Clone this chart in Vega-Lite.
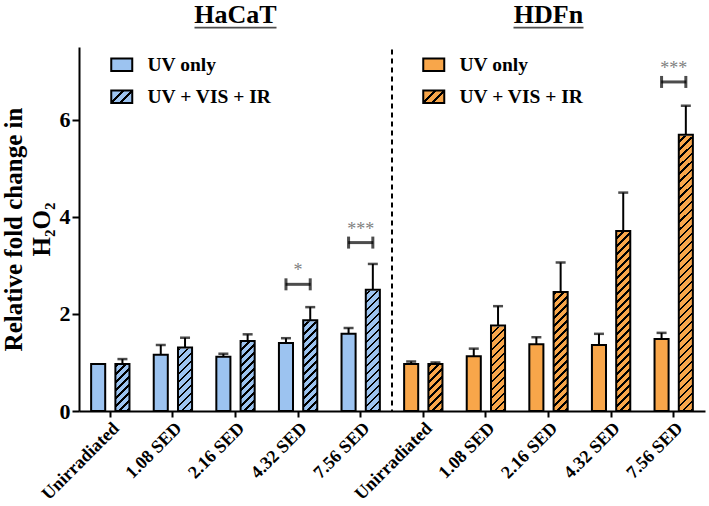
{
  "$schema": "https://vega.github.io/schema/vega-lite/v6.json",
  "width": 626,
  "height": 364,
  "autosize": "none",
  "padding": {"left": 79, "top": 47, "right": 4, "bottom": 95},
  "config": {
    "view": {"stroke": null},
    "font": "Liberation Serif",
    "axis": {"domainColor": "black", "tickColor": "black", "labelColor": "black", "titleColor": "black", "grid": false, "labelFont": "Liberation Serif", "titleFont": "Liberation Serif"}
  },
  "datasets": {
    "main": [
      {"cell": "HaCaT", "dose": "Unirradiated", "treat": "UV only", "mean": 0.97, "hi": null},
      {"cell": "HaCaT", "dose": "Unirradiated", "treat": "UV + VIS + IR", "mean": 0.97, "hi": 1.07},
      {"cell": "HaCaT", "dose": "1.08 SED", "treat": "UV only", "mean": 1.16, "hi": 1.36},
      {"cell": "HaCaT", "dose": "1.08 SED", "treat": "UV + VIS + IR", "mean": 1.31, "hi": 1.51},
      {"cell": "HaCaT", "dose": "2.16 SED", "treat": "UV only", "mean": 1.12, "hi": 1.18},
      {"cell": "HaCaT", "dose": "2.16 SED", "treat": "UV + VIS + IR", "mean": 1.44, "hi": 1.58},
      {"cell": "HaCaT", "dose": "4.32 SED", "treat": "UV only", "mean": 1.40, "hi": 1.50},
      {"cell": "HaCaT", "dose": "4.32 SED", "treat": "UV + VIS + IR", "mean": 1.87, "hi": 2.14},
      {"cell": "HaCaT", "dose": "7.56 SED", "treat": "UV only", "mean": 1.59, "hi": 1.71},
      {"cell": "HaCaT", "dose": "7.56 SED", "treat": "UV + VIS + IR", "mean": 2.50, "hi": 3.03},
      {"cell": "HDFn", "dose": "Unirradiated", "treat": "UV only", "mean": 0.97, "hi": 1.02},
      {"cell": "HDFn", "dose": "Unirradiated", "treat": "UV + VIS + IR", "mean": 0.97, "hi": 1.00},
      {"cell": "HDFn", "dose": "1.08 SED", "treat": "UV only", "mean": 1.13, "hi": 1.285},
      {"cell": "HDFn", "dose": "1.08 SED", "treat": "UV + VIS + IR", "mean": 1.76, "hi": 2.16},
      {"cell": "HDFn", "dose": "2.16 SED", "treat": "UV only", "mean": 1.375, "hi": 1.52},
      {"cell": "HDFn", "dose": "2.16 SED", "treat": "UV + VIS + IR", "mean": 2.45, "hi": 3.06},
      {"cell": "HDFn", "dose": "4.32 SED", "treat": "UV only", "mean": 1.36, "hi": 1.59},
      {"cell": "HDFn", "dose": "4.32 SED", "treat": "UV + VIS + IR", "mean": 3.71, "hi": 4.50},
      {"cell": "HDFn", "dose": "7.56 SED", "treat": "UV only", "mean": 1.485, "hi": 1.61},
      {"cell": "HDFn", "dose": "7.56 SED", "treat": "UV + VIS + IR", "mean": 5.69, "hi": 6.29}
    ],
    "sig": [
      {"cell": "HaCaT", "dose": "4.32 SED", "level": 2.61, "stars": "*"},
      {"cell": "HaCaT", "dose": "7.56 SED", "level": 3.47, "stars": "***"},
      {"cell": "HDFn", "dose": "7.56 SED", "level": 6.78, "stars": "***"}
    ],
    "titles": [
      {"cell": "HaCaT", "dose": "2.16 SED", "name": "HaCaT"},
      {"cell": "HDFn", "dose": "2.16 SED", "name": "HDFn"}
    ]
  },
  "data": {"name": "main"},
  "transform": [{"calculate": "datum.cell + '|' + datum.dose", "as": "key"}],
  "encoding": {
    "x": {
      "field": "key", "type": "nominal",
      "scale": {"domain": ["HaCaT|Unirradiated", "HaCaT|1.08 SED", "HaCaT|2.16 SED", "HaCaT|4.32 SED", "HaCaT|7.56 SED", "HDFn|Unirradiated", "HDFn|1.08 SED", "HDFn|2.16 SED", "HDFn|4.32 SED", "HDFn|7.56 SED"], "paddingInner": 0, "paddingOuter": 0},
      "axis": {"title": null, "labelExpr": "split(datum.label, '|')[1]", "labelAngle": -45, "labelFontSize": 18, "labelFontWeight": "bold", "tickSize": 6, "tickWidth": 2, "domainWidth": 2, "labelPadding": 2}
    }
  },
  "layer": [
    {
      "transform": [{"filter": "datum.cell === 'HaCaT'"}],
      "mark": {"type": "bar", "strokeWidth": 0},
      "encoding": {
        "xOffset": {"field": "treat", "type": "nominal", "scale": {"domain": ["UV only", "UV + VIS + IR"], "paddingInner": 0.42, "paddingOuter": 0.5}},
        "y": {"field": "mean", "type": "quantitative", "scale": {"domain": [0, 7.5], "nice": false},
          "axis": {"values": [0, 2, 4, 6], "title": ["Relative fold change in", "H₂O₂"], "titleFontSize": 25, "titleFontWeight": "bold", "titleLineHeight": 28, "titlePadding": 5, "labelFontSize": 22, "labelFontWeight": "bold", "tickSize": 7, "tickWidth": 2, "domainWidth": 2, "labelPadding": 2}},
        "fill": {"field": "treat", "type": "nominal",
          "scale": {"domain": ["UV only", "UV + VIS + IR"], "range": ["#9cc3f0", {"expr": "{gradient: 'linear', x1: 0, y1: 0, x2: 1.17647, y2: 0.70588, stops: [{offset: 0, color: '#9cc3f0'}, {offset: 0.335, color: '#9cc3f0'}, {offset: 0.335, color: 'black'}, {offset: 0.41, color: 'black'}, {offset: 0.41, color: '#9cc3f0'}, {offset: 0.59, color: '#9cc3f0'}, {offset: 0.59, color: 'black'}, {offset: 0.665, color: 'black'}, {offset: 0.665, color: '#9cc3f0'}, {offset: 1, color: '#9cc3f0'}]}"}]},
          "legend": {"title": null, "orient": "none", "legendX": 33, "legendY": 8, "zindex": 1,
            "symbolType": "M-1.5,-0.9H1.5V0.9H-1.5Z", "symbolSize": 196, "symbolStrokeColor": "black", "symbolStrokeWidth": 2, "symbolOpacity": 1,
            "labelFont": "Liberation Serif", "labelFontSize": 19.5, "labelFontWeight": "bold", "labelColor": "black", "labelOffset": 16, "rowPadding": 10}
        }
      }
    },
    {
      "transform": [{"filter": "datum.cell === 'HDFn'"}],
      "mark": {"type": "bar", "strokeWidth": 0},
      "encoding": {
        "xOffset": {"field": "treat", "type": "nominal"},
        "y": {"field": "mean", "type": "quantitative"},
        "fill": {"field": "treat", "type": "nominal",
          "scale": {"domain": ["UV only", "UV + VIS + IR"], "range": ["#f8a64a", {"expr": "{gradient: 'linear', x1: 0, y1: 0, x2: 1.17647, y2: 0.70588, stops: [{offset: 0, color: '#f8a64a'}, {offset: 0.335, color: '#f8a64a'}, {offset: 0.335, color: 'black'}, {offset: 0.41, color: 'black'}, {offset: 0.41, color: '#f8a64a'}, {offset: 0.59, color: '#f8a64a'}, {offset: 0.59, color: 'black'}, {offset: 0.665, color: 'black'}, {offset: 0.665, color: '#f8a64a'}, {offset: 1, color: '#f8a64a'}]}"}]},
          "legend": {"title": null, "orient": "none", "legendX": 345, "legendY": 8, "zindex": 1,
            "symbolType": "M-1.5,-0.9H1.5V0.9H-1.5Z", "symbolSize": 196, "symbolStrokeColor": "black", "symbolStrokeWidth": 2, "symbolOpacity": 1,
            "labelFont": "Liberation Serif", "labelFontSize": 19.5, "labelFontWeight": "bold", "labelColor": "black", "labelOffset": 16, "rowPadding": 10}
        }
      }
    },
    {
      "mark": {"type": "bar", "strokeWidth": 0},
      "encoding": {
        "xOffset": {"field": "treat", "type": "nominal"},
        "y": {"field": "mean", "type": "quantitative"},
        "fill": {"condition": {"test": "datum.cell === 'HaCaT'", "value": "#9cc3f0"}, "value": "#f8a64a"}
      }
    },
    {
      "transform": [{"filter": "datum.treat === 'UV + VIS + IR'"}],
      "mark": {"type": "bar", "strokeWidth": 0, "fill": {"gradient": "linear", "x1": 0, "y1": 0, "x2": 0.05053, "y2": 1.04589, "stops": [
        {"offset": 0, "color": "transparent"}, {"offset": 0.01769, "color": "transparent"}, {"offset": 0.01769, "color": "black"}, {"offset": 0.02621, "color": "black"},
        {"offset": 0.02621, "color": "transparent"}, {"offset": 0.0439, "color": "transparent"}, {"offset": 0.0439, "color": "black"}, {"offset": 0.05241, "color": "black"},
        {"offset": 0.05241, "color": "transparent"}, {"offset": 0.0701, "color": "transparent"}, {"offset": 0.0701, "color": "black"}, {"offset": 0.07862, "color": "black"},
        {"offset": 0.07862, "color": "transparent"}, {"offset": 0.09631, "color": "transparent"}, {"offset": 0.09631, "color": "black"}, {"offset": 0.10483, "color": "black"},
        {"offset": 0.10483, "color": "transparent"}, {"offset": 0.12252, "color": "transparent"}, {"offset": 0.12252, "color": "black"}, {"offset": 0.13104, "color": "black"},
        {"offset": 0.13104, "color": "transparent"}, {"offset": 0.14873, "color": "transparent"}, {"offset": 0.14873, "color": "black"}, {"offset": 0.15724, "color": "black"},
        {"offset": 0.15724, "color": "transparent"}, {"offset": 0.17493, "color": "transparent"}, {"offset": 0.17493, "color": "black"}, {"offset": 0.18345, "color": "black"},
        {"offset": 0.18345, "color": "transparent"}, {"offset": 0.20114, "color": "transparent"}, {"offset": 0.20114, "color": "black"}, {"offset": 0.20966, "color": "black"},
        {"offset": 0.20966, "color": "transparent"}, {"offset": 0.22735, "color": "transparent"}, {"offset": 0.22735, "color": "black"}, {"offset": 0.23586, "color": "black"},
        {"offset": 0.23586, "color": "transparent"}, {"offset": 0.25355, "color": "transparent"}, {"offset": 0.25355, "color": "black"}, {"offset": 0.26207, "color": "black"},
        {"offset": 0.26207, "color": "transparent"}, {"offset": 0.27976, "color": "transparent"}, {"offset": 0.27976, "color": "black"}, {"offset": 0.28828, "color": "black"},
        {"offset": 0.28828, "color": "transparent"}, {"offset": 0.30597, "color": "transparent"}, {"offset": 0.30597, "color": "black"}, {"offset": 0.31448, "color": "black"},
        {"offset": 0.31448, "color": "transparent"}, {"offset": 0.33217, "color": "transparent"}, {"offset": 0.33217, "color": "black"}, {"offset": 0.34069, "color": "black"},
        {"offset": 0.34069, "color": "transparent"}, {"offset": 0.35838, "color": "transparent"}, {"offset": 0.35838, "color": "black"}, {"offset": 0.3669, "color": "black"},
        {"offset": 0.3669, "color": "transparent"}, {"offset": 0.38459, "color": "transparent"}, {"offset": 0.38459, "color": "black"}, {"offset": 0.39311, "color": "black"},
        {"offset": 0.39311, "color": "transparent"}, {"offset": 0.4108, "color": "transparent"}, {"offset": 0.4108, "color": "black"}, {"offset": 0.41931, "color": "black"},
        {"offset": 0.41931, "color": "transparent"}, {"offset": 0.437, "color": "transparent"}, {"offset": 0.437, "color": "black"}, {"offset": 0.44552, "color": "black"},
        {"offset": 0.44552, "color": "transparent"}, {"offset": 0.46321, "color": "transparent"}, {"offset": 0.46321, "color": "black"}, {"offset": 0.47173, "color": "black"},
        {"offset": 0.47173, "color": "transparent"}, {"offset": 0.48942, "color": "transparent"}, {"offset": 0.48942, "color": "black"}, {"offset": 0.49793, "color": "black"},
        {"offset": 0.49793, "color": "transparent"}, {"offset": 0.51562, "color": "transparent"}, {"offset": 0.51562, "color": "black"}, {"offset": 0.52414, "color": "black"},
        {"offset": 0.52414, "color": "transparent"}, {"offset": 0.54183, "color": "transparent"}, {"offset": 0.54183, "color": "black"}, {"offset": 0.55035, "color": "black"},
        {"offset": 0.55035, "color": "transparent"}, {"offset": 0.56804, "color": "transparent"}, {"offset": 0.56804, "color": "black"}, {"offset": 0.57655, "color": "black"},
        {"offset": 0.57655, "color": "transparent"}, {"offset": 0.59424, "color": "transparent"}, {"offset": 0.59424, "color": "black"}, {"offset": 0.60276, "color": "black"},
        {"offset": 0.60276, "color": "transparent"}, {"offset": 0.62045, "color": "transparent"}, {"offset": 0.62045, "color": "black"}, {"offset": 0.62897, "color": "black"},
        {"offset": 0.62897, "color": "transparent"}, {"offset": 0.64666, "color": "transparent"}, {"offset": 0.64666, "color": "black"}, {"offset": 0.65518, "color": "black"},
        {"offset": 0.65518, "color": "transparent"}, {"offset": 0.67287, "color": "transparent"}, {"offset": 0.67287, "color": "black"}, {"offset": 0.68138, "color": "black"},
        {"offset": 0.68138, "color": "transparent"}, {"offset": 0.69907, "color": "transparent"}, {"offset": 0.69907, "color": "black"}, {"offset": 0.70759, "color": "black"},
        {"offset": 0.70759, "color": "transparent"}, {"offset": 0.72528, "color": "transparent"}, {"offset": 0.72528, "color": "black"}, {"offset": 0.7338, "color": "black"},
        {"offset": 0.7338, "color": "transparent"}, {"offset": 0.75149, "color": "transparent"}, {"offset": 0.75149, "color": "black"}, {"offset": 0.76, "color": "black"},
        {"offset": 0.76, "color": "transparent"}, {"offset": 0.77769, "color": "transparent"}, {"offset": 0.77769, "color": "black"}, {"offset": 0.78621, "color": "black"},
        {"offset": 0.78621, "color": "transparent"}, {"offset": 0.8039, "color": "transparent"}, {"offset": 0.8039, "color": "black"}, {"offset": 0.81242, "color": "black"},
        {"offset": 0.81242, "color": "transparent"}, {"offset": 0.83011, "color": "transparent"}, {"offset": 0.83011, "color": "black"}, {"offset": 0.83862, "color": "black"},
        {"offset": 0.83862, "color": "transparent"}, {"offset": 0.85631, "color": "transparent"}, {"offset": 0.85631, "color": "black"}, {"offset": 0.86483, "color": "black"},
        {"offset": 0.86483, "color": "transparent"}, {"offset": 0.88252, "color": "transparent"}, {"offset": 0.88252, "color": "black"}, {"offset": 0.89104, "color": "black"},
        {"offset": 0.89104, "color": "transparent"}, {"offset": 0.90873, "color": "transparent"}, {"offset": 0.90873, "color": "black"}, {"offset": 0.91725, "color": "black"},
        {"offset": 0.91725, "color": "transparent"}, {"offset": 0.93494, "color": "transparent"}, {"offset": 0.93494, "color": "black"}, {"offset": 0.94345, "color": "black"},
        {"offset": 0.94345, "color": "transparent"}, {"offset": 0.96114, "color": "transparent"}, {"offset": 0.96114, "color": "black"}, {"offset": 0.96966, "color": "black"},
        {"offset": 0.96966, "color": "transparent"}, {"offset": 0.98735, "color": "transparent"}, {"offset": 0.98735, "color": "black"}, {"offset": 0.99587, "color": "black"},
        {"offset": 0.99587, "color": "transparent"}, {"offset": 1, "color": "transparent"}]}},
      "encoding": {
        "xOffset": {"field": "treat", "type": "nominal"},
        "y": {"datum": 6},
        "y2": {"datum": 0}
      }
    },
    {
      "transform": [{"filter": "datum.treat === 'UV + VIS + IR'"}],
      "mark": {"type": "bar", "fill": "white", "stroke": "white", "strokeWidth": 2},
      "encoding": {
        "xOffset": {"field": "treat", "type": "nominal"},
        "y": {"field": "mean", "type": "quantitative"},
        "y2": {"datum": 6}
      }
    },
    {
      "mark": {"type": "bar", "fill": "transparent", "stroke": "black", "strokeWidth": 2},
      "encoding": {
        "xOffset": {"field": "treat", "type": "nominal"},
        "y": {"field": "mean", "type": "quantitative"}
      }
    },
    {
      "transform": [{"filter": "isValid(datum.hi)"}],
      "mark": {"type": "rule", "color": "black", "strokeWidth": 2},
      "encoding": {
        "xOffset": {"field": "treat", "type": "nominal"},
        "y": {"field": "mean", "type": "quantitative"},
        "y2": {"field": "hi"}
      }
    },
    {
      "transform": [{"filter": "isValid(datum.hi)"}],
      "mark": {"type": "tick", "color": "black", "orient": "horizontal", "size": 10, "thickness": 2.5},
      "encoding": {
        "xOffset": {"field": "treat", "type": "nominal"},
        "y": {"field": "hi", "type": "quantitative"}
      }
    },
    {
      "data": {"values": [{"sep": "HDFn"}]},
      "mark": {"type": "rule", "color": "black", "strokeWidth": 2, "strokeDash": [5, 4]},
      "encoding": {
        "x": {"datum": "HDFn|Unirradiated", "bandPosition": 0},
        "y": {"datum": 7.45},
        "y2": {"datum": 0}
      }
    },
    {
      "data": {"name": "sig"},
      "transform": [{"calculate": "datum.cell + '|' + datum.dose", "as": "key"}],
      "mark": {"type": "tick", "color": "black", "orient": "horizontal", "size": 25, "thickness": 3},
      "encoding": {"y": {"field": "level", "type": "quantitative"}}
    },
    {
      "data": {"name": "sig"},
      "transform": [{"calculate": "datum.cell + '|' + datum.dose", "as": "key"}],
      "mark": {"type": "tick", "color": "black", "orient": "vertical", "size": 12, "thickness": 3},
      "encoding": {"xOffset": {"datum": "UV only"}, "y": {"field": "level", "type": "quantitative"}}
    },
    {
      "data": {"name": "sig"},
      "transform": [{"calculate": "datum.cell + '|' + datum.dose", "as": "key"}],
      "mark": {"type": "tick", "color": "black", "orient": "vertical", "size": 12, "thickness": 3},
      "encoding": {"xOffset": {"datum": "UV + VIS + IR"}, "y": {"field": "level", "type": "quantitative"}}
    },
    {
      "data": {"name": "sig"},
      "transform": [{"calculate": "datum.cell + '|' + datum.dose", "as": "key"}],
      "mark": {"type": "text", "color": "#808080", "font": "Liberation Serif", "fontSize": 18, "baseline": "alphabetic", "dy": -8},
      "encoding": {"y": {"field": "level", "type": "quantitative"}, "text": {"field": "stars"}}
    },
    {
      "data": {"name": "titles"},
      "transform": [{"calculate": "datum.cell + '|' + datum.dose", "as": "key"}],
      "mark": {"type": "text", "color": "black", "font": "Liberation Serif", "fontSize": 26, "fontWeight": "bold", "baseline": "alphabetic"},
      "encoding": {"y": {"datum": 8.0}, "text": {"field": "name"}}
    },
    {
      "data": {"name": "titles"},
      "transform": [{"calculate": "datum.cell + '|' + datum.dose", "as": "key"}],
      "mark": {"type": "tick", "color": "black", "orient": "horizontal", "thickness": 1.8},
      "encoding": {"y": {"datum": 7.9}, "size": {"condition": {"test": "datum.name === 'HaCaT'", "value": 82}, "value": 70}}
    }
  ],
  "resolve": {"scale": {"fill": "independent"}}
}
